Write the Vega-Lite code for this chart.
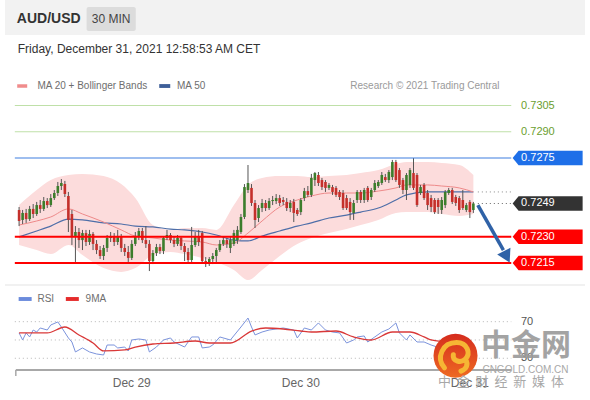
{
"$schema":"https://vega.github.io/schema/vega-lite/v6.json",
"width":590,"height":400,"padding":0,"autosize":{"type":"none"},
"background":"#ffffff",
"config":{"view":{"stroke":null},"font":"Liberation Sans"},
"datasets":{
"candles":[
{"i":0,"o":0.72453,"h":0.72470,"l":0.72361,"c":0.72390},
{"i":1,"o":0.72396,"h":0.72453,"l":0.72373,"c":0.72436},
{"i":2,"o":0.72436,"h":0.72459,"l":0.72379,"c":0.72401},
{"i":3,"o":0.72401,"h":0.72476,"l":0.72390,"c":0.72459},
{"i":4,"o":0.72459,"h":0.72487,"l":0.72407,"c":0.72430},
{"i":5,"o":0.72430,"h":0.72499,"l":0.72419,"c":0.72481},
{"i":6,"o":0.72481,"h":0.72510,"l":0.72436,"c":0.72459},
{"i":7,"o":0.72459,"h":0.72527,"l":0.72447,"c":0.72504},
{"i":8,"o":0.72504,"h":0.72521,"l":0.72464,"c":0.72481},
{"i":9,"o":0.72481,"h":0.72544,"l":0.72470,"c":0.72521},
{"i":10,"o":0.72521,"h":0.72567,"l":0.72510,"c":0.72550},
{"i":11,"o":0.72550,"h":0.72613,"l":0.72533,"c":0.72590},
{"i":12,"o":0.72590,"h":0.72630,"l":0.72567,"c":0.72607},
{"i":13,"o":0.72601,"h":0.72619,"l":0.72527,"c":0.72544},
{"i":14,"o":0.72533,"h":0.72556,"l":0.72327,"c":0.72396},
{"i":15,"o":0.72430,"h":0.72453,"l":0.72253,"c":0.72304},
{"i":16,"o":0.72304,"h":0.72361,"l":0.72156,"c":0.72327},
{"i":17,"o":0.72327,"h":0.72350,"l":0.72236,"c":0.72281},
{"i":18,"o":0.72281,"h":0.72339,"l":0.72224,"c":0.72321},
{"i":19,"o":0.72321,"h":0.72339,"l":0.72247,"c":0.72270},
{"i":20,"o":0.72270,"h":0.72339,"l":0.72253,"c":0.72316},
{"i":21,"o":0.72316,"h":0.72327,"l":0.72224,"c":0.72259},
{"i":22,"o":0.72259,"h":0.72281,"l":0.72201,"c":0.72224},
{"i":23,"o":0.72224,"h":0.72247,"l":0.72173,"c":0.72190},
{"i":24,"o":0.72190,"h":0.72253,"l":0.72167,"c":0.72236},
{"i":25,"o":0.72236,"h":0.72310,"l":0.72213,"c":0.72293},
{"i":26,"o":0.72293,"h":0.72327,"l":0.72270,"c":0.72304},
{"i":27,"o":0.72304,"h":0.72321,"l":0.72247,"c":0.72270},
{"i":28,"o":0.72270,"h":0.72339,"l":0.72253,"c":0.72304},
{"i":29,"o":0.72304,"h":0.72316,"l":0.72213,"c":0.72236},
{"i":30,"o":0.72236,"h":0.72259,"l":0.72190,"c":0.72213},
{"i":31,"o":0.72213,"h":0.72247,"l":0.72156,"c":0.72179},
{"i":32,"o":0.72179,"h":0.72281,"l":0.72167,"c":0.72259},
{"i":33,"o":0.72259,"h":0.72327,"l":0.72247,"c":0.72304},
{"i":34,"o":0.72304,"h":0.72350,"l":0.72281,"c":0.72333},
{"i":35,"o":0.72333,"h":0.72350,"l":0.72264,"c":0.72281},
{"i":36,"o":0.72281,"h":0.72361,"l":0.72236,"c":0.72259},
{"i":37,"o":0.72259,"h":0.72281,"l":0.72104,"c":0.72161},
{"i":38,"o":0.72161,"h":0.72224,"l":0.72144,"c":0.72207},
{"i":39,"o":0.72207,"h":0.72259,"l":0.72190,"c":0.72241},
{"i":40,"o":0.72241,"h":0.72259,"l":0.72201,"c":0.72219},
{"i":41,"o":0.72219,"h":0.72304,"l":0.72201,"c":0.72293},
{"i":42,"o":0.72293,"h":0.72339,"l":0.72281,"c":0.72310},
{"i":43,"o":0.72310,"h":0.72321,"l":0.72264,"c":0.72281},
{"i":44,"o":0.72281,"h":0.72304,"l":0.72241,"c":0.72259},
{"i":45,"o":0.72259,"h":0.72310,"l":0.72247,"c":0.72293},
{"i":46,"o":0.72293,"h":0.72304,"l":0.72224,"c":0.72247},
{"i":47,"o":0.72247,"h":0.72264,"l":0.72161,"c":0.72213},
{"i":48,"o":0.72213,"h":0.72236,"l":0.72156,"c":0.72167},
{"i":49,"o":0.72167,"h":0.72356,"l":0.72156,"c":0.72253},
{"i":50,"o":0.72253,"h":0.72327,"l":0.72241,"c":0.72299},
{"i":51,"o":0.72299,"h":0.72339,"l":0.72247,"c":0.72270},
{"i":52,"o":0.72321,"h":0.72333,"l":0.72150,"c":0.72161},
{"i":53,"o":0.72161,"h":0.72184,"l":0.72127,"c":0.72144},
{"i":54,"o":0.72144,"h":0.72184,"l":0.72133,"c":0.72173},
{"i":55,"o":0.72173,"h":0.72207,"l":0.72144,"c":0.72190},
{"i":56,"o":0.72190,"h":0.72236,"l":0.72156,"c":0.72224},
{"i":57,"o":0.72224,"h":0.72281,"l":0.72213,"c":0.72259},
{"i":58,"o":0.72259,"h":0.72304,"l":0.72247,"c":0.72281},
{"i":59,"o":0.72281,"h":0.72293,"l":0.72236,"c":0.72259},
{"i":60,"o":0.72236,"h":0.72304,"l":0.72207,"c":0.72281},
{"i":61,"o":0.72259,"h":0.72339,"l":0.72247,"c":0.72321},
{"i":62,"o":0.72281,"h":0.72361,"l":0.72259,"c":0.72339},
{"i":63,"o":0.72327,"h":0.72430,"l":0.72316,"c":0.72413},
{"i":64,"o":0.72413,"h":0.72601,"l":0.72401,"c":0.72584},
{"i":65,"o":0.72567,"h":0.72710,"l":0.72550,"c":0.72607},
{"i":66,"o":0.72579,"h":0.72601,"l":0.72476,"c":0.72493},
{"i":67,"o":0.72493,"h":0.72510,"l":0.72350,"c":0.72396},
{"i":68,"o":0.72407,"h":0.72481,"l":0.72384,"c":0.72464},
{"i":69,"o":0.72464,"h":0.72516,"l":0.72441,"c":0.72493},
{"i":70,"o":0.72493,"h":0.72510,"l":0.72447,"c":0.72464},
{"i":71,"o":0.72464,"h":0.72521,"l":0.72453,"c":0.72504},
{"i":72,"o":0.72504,"h":0.72533,"l":0.72481,"c":0.72510},
{"i":73,"o":0.72504,"h":0.72544,"l":0.72487,"c":0.72521},
{"i":74,"o":0.72521,"h":0.72539,"l":0.72476,"c":0.72493},
{"i":75,"o":0.72510,"h":0.72527,"l":0.72481,"c":0.72499},
{"i":76,"o":0.72499,"h":0.72521,"l":0.72447,"c":0.72464},
{"i":77,"o":0.72464,"h":0.72510,"l":0.72441,"c":0.72493},
{"i":78,"o":0.72499,"h":0.72516,"l":0.72384,"c":0.72436},
{"i":79,"o":0.72453,"h":0.72464,"l":0.72419,"c":0.72430},
{"i":80,"o":0.72441,"h":0.72521,"l":0.72424,"c":0.72510},
{"i":81,"o":0.72521,"h":0.72579,"l":0.72504,"c":0.72561},
{"i":82,"o":0.72561,"h":0.72590,"l":0.72527,"c":0.72539},
{"i":83,"o":0.72539,"h":0.72659,"l":0.72527,"c":0.72636},
{"i":84,"o":0.72624,"h":0.72670,"l":0.72590,"c":0.72664},
{"i":85,"o":0.72653,"h":0.72670,"l":0.72590,"c":0.72607},
{"i":86,"o":0.72624,"h":0.72636,"l":0.72567,"c":0.72584},
{"i":87,"o":0.72613,"h":0.72624,"l":0.72556,"c":0.72579},
{"i":88,"o":0.72579,"h":0.72607,"l":0.72567,"c":0.72596},
{"i":89,"o":0.72584,"h":0.72596,"l":0.72539,"c":0.72556},
{"i":90,"o":0.72579,"h":0.72590,"l":0.72527,"c":0.72539},
{"i":91,"o":0.72556,"h":0.72567,"l":0.72510,"c":0.72527},
{"i":92,"o":0.72550,"h":0.72567,"l":0.72453,"c":0.72464},
{"i":93,"o":0.72521,"h":0.72539,"l":0.72453,"c":0.72464},
{"i":94,"o":0.72499,"h":0.72521,"l":0.72396,"c":0.72441},
{"i":95,"o":0.72436,"h":0.72510,"l":0.72396,"c":0.72493},
{"i":96,"o":0.72510,"h":0.72567,"l":0.72493,"c":0.72556},
{"i":97,"o":0.72556,"h":0.72567,"l":0.72493,"c":0.72510},
{"i":98,"o":0.72510,"h":0.72579,"l":0.72493,"c":0.72567},
{"i":99,"o":0.72579,"h":0.72590,"l":0.72499,"c":0.72510},
{"i":100,"o":0.72527,"h":0.72579,"l":0.72510,"c":0.72567},
{"i":101,"o":0.72567,"h":0.72624,"l":0.72556,"c":0.72607},
{"i":102,"o":0.72590,"h":0.72624,"l":0.72579,"c":0.72613},
{"i":103,"o":0.72607,"h":0.72670,"l":0.72596,"c":0.72653},
{"i":104,"o":0.72641,"h":0.72659,"l":0.72613,"c":0.72624},
{"i":105,"o":0.72624,"h":0.72681,"l":0.72607,"c":0.72670},
{"i":106,"o":0.72641,"h":0.72739,"l":0.72624,"c":0.72727},
{"i":107,"o":0.72727,"h":0.72739,"l":0.72613,"c":0.72624},
{"i":108,"o":0.72681,"h":0.72693,"l":0.72579,"c":0.72596},
{"i":109,"o":0.72624,"h":0.72636,"l":0.72544,"c":0.72567},
{"i":110,"o":0.72567,"h":0.72664,"l":0.72510,"c":0.72653},
{"i":111,"o":0.72596,"h":0.72693,"l":0.72579,"c":0.72681},
{"i":112,"o":0.72664,"h":0.72750,"l":0.72567,"c":0.72579},
{"i":113,"o":0.72653,"h":0.72664,"l":0.72470,"c":0.72481},
{"i":114,"o":0.72550,"h":0.72596,"l":0.72539,"c":0.72584},
{"i":115,"o":0.72596,"h":0.72607,"l":0.72510,"c":0.72521},
{"i":116,"o":0.72550,"h":0.72567,"l":0.72453,"c":0.72481},
{"i":117,"o":0.72521,"h":0.72539,"l":0.72441,"c":0.72470},
{"i":118,"o":0.72510,"h":0.72521,"l":0.72430,"c":0.72441},
{"i":119,"o":0.72510,"h":0.72521,"l":0.72430,"c":0.72470},
{"i":120,"o":0.72453,"h":0.72527,"l":0.72430,"c":0.72510},
{"i":121,"o":0.72481,"h":0.72567,"l":0.72464,"c":0.72556},
{"i":122,"o":0.72550,"h":0.72579,"l":0.72539,"c":0.72567},
{"i":123,"o":0.72567,"h":0.72579,"l":0.72487,"c":0.72499},
{"i":124,"o":0.72527,"h":0.72539,"l":0.72476,"c":0.72493},
{"i":125,"o":0.72521,"h":0.72533,"l":0.72436,"c":0.72453},
{"i":126,"o":0.72510,"h":0.72567,"l":0.72453,"c":0.72464},
{"i":127,"o":0.72453,"h":0.72493,"l":0.72441,"c":0.72481},
{"i":128,"o":0.72499,"h":0.72510,"l":0.72407,"c":0.72441},
{"i":129,"o":0.72453,"h":0.72499,"l":0.72436,"c":0.72490}
],
"ma":[
{"i":0,"m20":0.72367,"m50":0.72299,"up":0.72481,"lo":0.72253},
{"i":5,"m20":0.72390,"m50":0.72333,"up":0.72567,"lo":0.72224},
{"i":9,"m20":0.72413,"m50":0.72361,"up":0.72624,"lo":0.72201},
{"i":14,"m20":0.72459,"m50":0.72401,"up":0.72653,"lo":0.72253},
{"i":18,"m20":0.72430,"m50":0.72396,"up":0.72659,"lo":0.72196},
{"i":24,"m20":0.72384,"m50":0.72379,"up":0.72647,"lo":0.72121},
{"i":29,"m20":0.72339,"m50":0.72373,"up":0.72601,"lo":0.72099},
{"i":33,"m20":0.72304,"m50":0.72361,"up":0.72521,"lo":0.72121},
{"i":38,"m20":0.72293,"m50":0.72356,"up":0.72367,"lo":0.72196},
{"i":43,"m20":0.72281,"m50":0.72344,"up":0.72339,"lo":0.72213},
{"i":47,"m20":0.72276,"m50":0.72339,"up":0.72350,"lo":0.72201},
{"i":52,"m20":0.72270,"m50":0.72327,"up":0.72350,"lo":0.72179},
{"i":56,"m20":0.72253,"m50":0.72310,"up":0.72339,"lo":0.72156},
{"i":61,"m20":0.72264,"m50":0.72281,"up":0.72481,"lo":0.72110},
{"i":65,"m20":0.72321,"m50":0.72276,"up":0.72596,"lo":0.72053},
{"i":69,"m20":0.72390,"m50":0.72304,"up":0.72636,"lo":0.72110},
{"i":74,"m20":0.72470,"m50":0.72333,"up":0.72647,"lo":0.72190},
{"i":79,"m20":0.72510,"m50":0.72361,"up":0.72647,"lo":0.72259},
{"i":83,"m20":0.72533,"m50":0.72379,"up":0.72641,"lo":0.72293},
{"i":88,"m20":0.72550,"m50":0.72407,"up":0.72647,"lo":0.72321},
{"i":93,"m20":0.72550,"m50":0.72424,"up":0.72653,"lo":0.72344},
{"i":97,"m20":0.72550,"m50":0.72441,"up":0.72664,"lo":0.72367},
{"i":102,"m20":0.72561,"m50":0.72464,"up":0.72681,"lo":0.72396},
{"i":107,"m20":0.72579,"m50":0.72510,"up":0.72716,"lo":0.72436},
{"i":110,"m20":0.72596,"m50":0.72539,"up":0.72727,"lo":0.72441},
{"i":116,"m20":0.72596,"m50":0.72556,"up":0.72727,"lo":0.72441},
{"i":120,"m20":0.72590,"m50":0.72556,"up":0.72721,"lo":0.72430},
{"i":125,"m20":0.72579,"m50":0.72556,"up":0.72710,"lo":0.72419},
{"i":129,"m20":0.72556,"m50":0.72556,"up":0.72653,"lo":0.72430}
],
"levels":[{"v":0.7305,"k":"r2"},{"v":0.729,"k":"r1"},{"v":0.7275,"k":"piv"},{"v":0.7249,"k":"last"},{"v":0.723,"k":"s1"},{"v":0.7215,"k":"s2"}],
"rsi":[{"i":0,"r":57.7},{"i":1,"r":50},{"i":2,"r":57.7},{"i":3,"r":53.3},{"i":4,"r":60.9},{"i":5,"r":58.7},{"i":6,"r":63.1},{"i":8,"r":60.9},{"i":9,"r":66.4},{"i":11,"r":69.7},{"i":12,"r":64.2},{"i":14,"r":52.2},{"i":15,"r":47.8},{"i":16,"r":36.9},{"i":18,"r":41.3},{"i":19,"r":39.1},{"i":20,"r":36.9},{"i":22,"r":34.7},{"i":24,"r":33.6},{"i":25,"r":44.5},{"i":27,"r":44.5},{"i":28,"r":41.3},{"i":30,"r":42.3},{"i":31,"r":38},{"i":32,"r":50},{"i":34,"r":51.1},{"i":36,"r":50},{"i":37,"r":36.9},{"i":39,"r":42.3},{"i":41,"r":50},{"i":43,"r":52.2},{"i":44,"r":47.8},{"i":47,"r":42.3},{"i":49,"r":53.3},{"i":51,"r":53.3},{"i":52,"r":41.3},{"i":54,"r":42.3},{"i":55,"r":44.5},{"i":57,"r":53.3},{"i":60,"r":50},{"i":63,"r":64.2},{"i":65,"r":74},{"i":66,"r":64.2},{"i":67,"r":55.5},{"i":69,"r":58.7},{"i":71,"r":60.9},{"i":75,"r":63.1},{"i":78,"r":60.9},{"i":79,"r":52.2},{"i":81,"r":63.1},{"i":83,"r":60.9},{"i":85,"r":68.6},{"i":87,"r":60.9},{"i":89,"r":58.7},{"i":91,"r":57.7},{"i":93,"r":46.7},{"i":95,"r":50},{"i":96,"r":53.3},{"i":98,"r":54.4},{"i":99,"r":47.8},{"i":101,"r":53.3},{"i":103,"r":58.7},{"i":105,"r":62},{"i":107,"r":68.6},{"i":108,"r":57.7},{"i":110,"r":50},{"i":111,"r":55.5},{"i":113,"r":47.8},{"i":115,"r":47.8},{"i":117,"r":44.5},{"i":119,"r":42},{"i":121,"r":48},{"i":123,"r":45},{"i":125,"r":40},{"i":127,"r":44},{"i":129,"r":42}],
"rsima":[{"i":0,"r":57.7},{"i":8,"r":57.7},{"i":13,"r":64.2},{"i":17,"r":55.5},{"i":21,"r":46.7},{"i":24,"r":38},{"i":30,"r":39.1},{"i":33,"r":42.3},{"i":38,"r":45.6},{"i":44,"r":46.7},{"i":50,"r":48.9},{"i":54,"r":46.7},{"i":60,"r":46.7},{"i":66,"r":59.8},{"i":70,"r":63.1},{"i":75,"r":62},{"i":80,"r":59.8},{"i":83,"r":58.7},{"i":90,"r":59.8},{"i":95,"r":53.3},{"i":100,"r":50},{"i":106,"r":58.7},{"i":111,"r":58.7},{"i":115,"r":53.3},{"i":117,"r":50},{"i":121,"r":48},{"i":125,"r":46},{"i":129,"r":45}],
"rsilv":[{"v":70},{"v":50},{"v":30}],
"days":[{"i":32,"d":"Dec 29"},{"i":80,"d":"Dec 30"},{"i":128,"d":"Dec 31"}]
},
"resolve":{"scale":{"y":"independent"}},
"layer":[
{"layer":[
{"data":{"values":[{}]},"mark":{"type":"rect","color":"#f2f2f2"},"encoding":{"x":{"datum":-4,"type":"quantitative","scale":{"domain":[-4,160.7],"nice":false,"zero":false},"axis":null},"x2":{"datum":160.7},"y":{"datum":0.736529,"type":"quantitative","scale":{"domain":[0.713671,0.736529],"nice":false,"zero":false},"axis":null},"y2":{"datum":0.734529}}},
{"data":{"values":[{}]},"mark":{"type":"rect","color":"#dcdcdc","cornerRadius":2},"encoding":{"x":{"datum":19.17,"type":"quantitative","scale":{"domain":[-4,160.7],"nice":false,"zero":false},"axis":null},"x2":{"datum":33.13},"y":{"datum":0.736129,"type":"quantitative","scale":{"domain":[0.713671,0.736529],"nice":false,"zero":false},"axis":null},"y2":{"datum":0.734757}}},
{"data":{"values":[{}]},"mark":{"type":"text","text":"AUD/USD","align":"left","baseline":"middle","fontSize":14,"fontWeight":"bold","color":"#333333"},"encoding":{"x":{"datum":-0.65,"type":"quantitative","scale":{"domain":[-4,160.7],"nice":false,"zero":false},"axis":null},"y":{"datum":0.735443,"type":"quantitative","scale":{"domain":[0.713671,0.736529],"nice":false,"zero":false},"axis":null}}},
{"data":{"values":[{}]},"mark":{"type":"text","text":"30 MIN","align":"center","baseline":"middle","fontSize":12,"color":"#444444"},"encoding":{"x":{"datum":26.15,"type":"quantitative","scale":{"domain":[-4,160.7],"nice":false,"zero":false},"axis":null},"y":{"datum":0.735443,"type":"quantitative","scale":{"domain":[0.713671,0.736529],"nice":false,"zero":false},"axis":null}}},
{"data":{"values":[{}]},"mark":{"type":"text","text":"Friday, December 31, 2021 12:58:53 AM CET","align":"left","baseline":"middle","fontSize":12,"color":"#333333"},"encoding":{"x":{"datum":-0.37,"type":"quantitative","scale":{"domain":[-4,160.7],"nice":false,"zero":false},"axis":null},"y":{"datum":0.733729,"type":"quantitative","scale":{"domain":[0.713671,0.736529],"nice":false,"zero":false},"axis":null}}},
{"data":{"values":[{}]},"mark":{"type":"point","shape":"M-1,-0.35L1,-0.35L1,0.35L-1,0.35Z","size":100,"filled":true,"opacity":1,"color":"#f08c8c"},"encoding":{"x":{"datum":0.885,"type":"quantitative","scale":{"domain":[-4,160.7],"nice":false,"zero":false},"axis":null},"y":{"datum":0.731614,"type":"quantitative","scale":{"domain":[0.713671,0.736529],"nice":false,"zero":false},"axis":null}}},
{"data":{"values":[{}]},"mark":{"type":"text","text":"MA 20 + Bollinger Bands","align":"left","baseline":"middle","fontSize":10,"color":"#6e6e6e"},"encoding":{"x":{"datum":5.21,"type":"quantitative","scale":{"domain":[-4,160.7],"nice":false,"zero":false},"axis":null},"y":{"datum":0.731614,"type":"quantitative","scale":{"domain":[0.713671,0.736529],"nice":false,"zero":false},"axis":null}}},
{"data":{"values":[{}]},"mark":{"type":"point","shape":"M-1,-0.35L1,-0.35L1,0.35L-1,0.35Z","size":121,"filled":true,"opacity":1,"color":"#3e5f99"},"encoding":{"x":{"datum":41.36,"type":"quantitative","scale":{"domain":[-4,160.7],"nice":false,"zero":false},"axis":null},"y":{"datum":0.731614,"type":"quantitative","scale":{"domain":[0.713671,0.736529],"nice":false,"zero":false},"axis":null}}},
{"data":{"values":[{}]},"mark":{"type":"text","text":"MA 50","align":"left","baseline":"middle","fontSize":10,"color":"#6e6e6e"},"encoding":{"x":{"datum":44.85,"type":"quantitative","scale":{"domain":[-4,160.7],"nice":false,"zero":false},"axis":null},"y":{"datum":0.731614,"type":"quantitative","scale":{"domain":[0.713671,0.736529],"nice":false,"zero":false},"axis":null}}},
{"data":{"values":[{}]},"mark":{"type":"text","text":"Research © 2021 Trading Central","align":"right","baseline":"middle","fontSize":10,"color":"#9a9a9a"},"encoding":{"x":{"datum":136.41,"type":"quantitative","scale":{"domain":[-4,160.7],"nice":false,"zero":false},"axis":null},"y":{"datum":0.731614,"type":"quantitative","scale":{"domain":[0.713671,0.736529],"nice":false,"zero":false},"axis":null}}},
{"data":{"name":"ma"},"mark":{"type":"area","color":"#fcdcdc","opacity":1,"interpolate":"monotone"},"encoding":{"x":{"field":"i","type":"quantitative","scale":{"domain":[-4,160.7],"nice":false,"zero":false},"axis":null},"y":{"field":"up","type":"quantitative","scale":{"domain":[0.713671,0.736529],"nice":false,"zero":false},"axis":null},"y2":{"field":"lo"}}},
{"data":{"name":"ma"},"mark":{"type":"line","color":"#4e6ea8","strokeWidth":1.2,"interpolate":"monotone"},"encoding":{"x":{"field":"i","type":"quantitative","scale":{"domain":[-4,160.7],"nice":false,"zero":false},"axis":null},"y":{"field":"m50","type":"quantitative","scale":{"domain":[0.713671,0.736529],"nice":false,"zero":false},"axis":null}}},
{"data":{"name":"ma"},"mark":{"type":"line","color":"#ee8a8a","strokeWidth":1,"interpolate":"monotone"},"encoding":{"x":{"field":"i","type":"quantitative","scale":{"domain":[-4,160.7],"nice":false,"zero":false},"axis":null},"y":{"field":"m20","type":"quantitative","scale":{"domain":[0.713671,0.736529],"nice":false,"zero":false},"axis":null}}},
{"data":{"name":"ma"},"transform":[{"filter":"datum.i == 129"}],"mark":{"type":"rule","color":"#888888","strokeWidth":1,"strokeDash":[1,3]},"encoding":{"x":{"datum":130.27,"type":"quantitative","scale":{"domain":[-4,160.7],"nice":false,"zero":false},"axis":null},"x2":{"datum":139.76},"y":{"field":"m50","type":"quantitative","scale":{"domain":[0.713671,0.736529],"nice":false,"zero":false},"axis":null}}},
{"data":{"name":"levels"},"transform":[{"filter":"datum.k == 'last'"}],"mark":{"type":"rule","color":"#666666","strokeWidth":1,"strokeDash":[1,3]},"encoding":{"x":{"datum":130.27,"type":"quantitative","scale":{"domain":[-4,160.7],"nice":false,"zero":false},"axis":null},"x2":{"datum":139.76},"y":{"field":"v","type":"quantitative","scale":{"domain":[0.713671,0.736529],"nice":false,"zero":false},"axis":null}}},
{"data":{"name":"candles"},"mark":{"type":"rule","color":"#555555","strokeWidth":1},"encoding":{"x":{"field":"i","type":"quantitative","scale":{"domain":[-4,160.7],"nice":false,"zero":false},"axis":null},"y":{"field":"l","type":"quantitative","scale":{"domain":[0.713671,0.736529],"nice":false,"zero":false},"axis":null},"y2":{"field":"h"}}},
{"data":{"name":"candles"},"mark":{"type":"bar","width":2.6},"encoding":{"x":{"field":"i","type":"quantitative","scale":{"domain":[-4,160.7],"nice":false,"zero":false},"axis":null},"y":{"field":"o","type":"quantitative","scale":{"domain":[0.713671,0.736529],"nice":false,"zero":false},"axis":null},"y2":{"field":"c"},"color":{"condition":{"test":"datum.c >= datum.o","value":"#3c7d2c"},"value":"#c4302b"}}},
{"data":{"name":"levels"},"transform":[{"filter":{"field":"k","oneOf":["r1","r2"]}}],"mark":{"type":"rule","color":"#bfe0a8","strokeWidth":1},"encoding":{"x":{"datum":-1.21,"type":"quantitative","scale":{"domain":[-4,160.7],"nice":false,"zero":false},"axis":null},"x2":{"datum":139.76},"y":{"field":"v","type":"quantitative","scale":{"domain":[0.713671,0.736529],"nice":false,"zero":false},"axis":null}}},
{"data":{"name":"levels"},"transform":[{"filter":"datum.k == 'piv'"}],"mark":{"type":"rule","color":"#3f7fe0","strokeWidth":1.2},"encoding":{"x":{"datum":-1.21,"type":"quantitative","scale":{"domain":[-4,160.7],"nice":false,"zero":false},"axis":null},"x2":{"datum":139.76},"y":{"field":"v","type":"quantitative","scale":{"domain":[0.713671,0.736529],"nice":false,"zero":false},"axis":null}}},
{"data":{"name":"levels"},"transform":[{"filter":{"field":"k","oneOf":["s1","s2"]}}],"mark":{"type":"rule","color":"#ff0000","strokeWidth":2},"encoding":{"x":{"datum":-1.21,"type":"quantitative","scale":{"domain":[-4,160.7],"nice":false,"zero":false},"axis":null},"x2":{"datum":139.76},"y":{"field":"v","type":"quantitative","scale":{"domain":[0.713671,0.736529],"nice":false,"zero":false},"axis":null}}},
{"data":{"name":"levels"},"transform":[{"filter":"datum.k == 'piv'"}],"mark":{"type":"point","shape":"M-1,0L-0.83,-0.21L1,-0.21L1,0.21L-0.83,0.21Z","size":4900,"filled":true,"opacity":1,"color":"#1e6fe8","strokeWidth":0},"encoding":{"x":{"datum":150.09,"type":"quantitative","scale":{"domain":[-4,160.7],"nice":false,"zero":false},"axis":null},"y":{"field":"v","type":"quantitative","scale":{"domain":[0.713671,0.736529],"nice":false,"zero":false},"axis":null}}},
{"data":{"name":"levels"},"transform":[{"filter":"datum.k == 'last'"}],"mark":{"type":"point","shape":"M-1,0L-0.83,-0.21L1,-0.21L1,0.21L-0.83,0.21Z","size":4900,"filled":true,"opacity":1,"color":"#333333","strokeWidth":0},"encoding":{"x":{"datum":150.09,"type":"quantitative","scale":{"domain":[-4,160.7],"nice":false,"zero":false},"axis":null},"y":{"field":"v","type":"quantitative","scale":{"domain":[0.713671,0.736529],"nice":false,"zero":false},"axis":null}}},
{"data":{"name":"levels"},"transform":[{"filter":{"field":"k","oneOf":["s1","s2"]}}],"mark":{"type":"point","shape":"M-1,0L-0.83,-0.21L1,-0.21L1,0.21L-0.83,0.21Z","size":4900,"filled":true,"opacity":1,"color":"#ff0000","strokeWidth":0},"encoding":{"x":{"datum":150.09,"type":"quantitative","scale":{"domain":[-4,160.7],"nice":false,"zero":false},"axis":null},"y":{"field":"v","type":"quantitative","scale":{"domain":[0.713671,0.736529],"nice":false,"zero":false},"axis":null}}},
{"data":{"name":"levels"},"transform":[{"filter":{"field":"k","oneOf":["piv","last","s1","s2"]}}],"mark":{"type":"text","align":"left","baseline":"middle","fontSize":11,"color":"#ffffff"},"encoding":{"x":{"datum":142.55,"type":"quantitative","scale":{"domain":[-4,160.7],"nice":false,"zero":false},"axis":null},"y":{"field":"v","type":"quantitative","scale":{"domain":[0.713671,0.736529],"nice":false,"zero":false},"axis":null},"text":{"field":"v","type":"quantitative","format":".4f"}}},
{"data":{"name":"levels"},"transform":[{"filter":{"field":"k","oneOf":["r1","r2"]}}],"mark":{"type":"text","align":"left","baseline":"middle","fontSize":11,"color":"#6b9e2f"},"encoding":{"x":{"datum":142.55,"type":"quantitative","scale":{"domain":[-4,160.7],"nice":false,"zero":false},"axis":null},"y":{"field":"v","type":"quantitative","scale":{"domain":[0.713671,0.736529],"nice":false,"zero":false},"axis":null},"text":{"field":"v","type":"quantitative","format":".4f"}}},
{"data":{"values":[{}]},"mark":{"type":"rule","color":"#2f62a7","strokeWidth":3.5},"encoding":{"x":{"datum":130.27,"type":"quantitative","scale":{"domain":[-4,160.7],"nice":false,"zero":false},"axis":null},"x2":{"datum":137.53},"y":{"datum":0.72481,"type":"quantitative","scale":{"domain":[0.713671,0.736529],"nice":false,"zero":false},"axis":null},"y2":{"datum":0.72224}}},
{"data":{"values":[{}]},"mark":{"type":"point","shape":"triangle","size":220,"angle":153,"filled":true,"opacity":1,"color":"#2f62a7"},"encoding":{"x":{"datum":138.2,"type":"quantitative","scale":{"domain":[-4,160.7],"nice":false,"zero":false},"axis":null},"y":{"datum":0.72196,"type":"quantitative","scale":{"domain":[0.713671,0.736529],"nice":false,"zero":false},"axis":null}}}
]},
{"layer":[
{"data":{"values":[{}]},"mark":{"type":"rule","color":"#e3e3e3","strokeWidth":1},"encoding":{"x":{"datum":-4,"type":"quantitative","scale":{"domain":[-4,160.7],"nice":false,"zero":false},"axis":null},"x2":{"datum":160.7},"y":{"datum":110.1,"type":"quantitative","scale":{"domain":[-15.6,421.6],"nice":false,"zero":false},"axis":null}}},
{"data":{"values":[{}]},"mark":{"type":"point","shape":"M-1,-0.3L1,-0.3L1,0.3L-1,0.3Z","size":169,"filled":true,"opacity":1,"color":"#6b8bdc"},"encoding":{"x":{"datum":1.72,"type":"quantitative","scale":{"domain":[-4,160.7],"nice":false,"zero":false},"axis":null},"y":{"datum":94.8,"type":"quantitative","scale":{"domain":[-15.6,421.6],"nice":false,"zero":false},"axis":null}}},
{"data":{"values":[{}]},"mark":{"type":"text","text":"RSI","align":"left","baseline":"middle","fontSize":10,"color":"#6e6e6e"},"encoding":{"x":{"datum":5.21,"type":"quantitative","scale":{"domain":[-4,160.7],"nice":false,"zero":false},"axis":null},"y":{"datum":94.8,"type":"quantitative","scale":{"domain":[-15.6,421.6],"nice":false,"zero":false},"axis":null}}},
{"data":{"values":[{}]},"mark":{"type":"point","shape":"M-1,-0.3L1,-0.3L1,0.3L-1,0.3Z","size":169,"filled":true,"opacity":1,"color":"#e52b2b"},"encoding":{"x":{"datum":15.12,"type":"quantitative","scale":{"domain":[-4,160.7],"nice":false,"zero":false},"axis":null},"y":{"datum":94.8,"type":"quantitative","scale":{"domain":[-15.6,421.6],"nice":false,"zero":false},"axis":null}}},
{"data":{"values":[{}]},"mark":{"type":"text","text":"9MA","align":"left","baseline":"middle","fontSize":10,"color":"#6e6e6e"},"encoding":{"x":{"datum":18.89,"type":"quantitative","scale":{"domain":[-4,160.7],"nice":false,"zero":false},"axis":null},"y":{"datum":94.8,"type":"quantitative","scale":{"domain":[-15.6,421.6],"nice":false,"zero":false},"axis":null}}},
{"data":{"name":"rsilv"},"mark":{"type":"rule","color":"#b5b5b5","strokeWidth":1,"strokeDash":[1,3]},"encoding":{"x":{"datum":-1.21,"type":"quantitative","scale":{"domain":[-4,160.7],"nice":false,"zero":false},"axis":null},"x2":{"datum":139.76},"y":{"field":"v","type":"quantitative","scale":{"domain":[-15.6,421.6],"nice":false,"zero":false},"axis":null}}},
{"data":{"name":"rsilv"},"transform":[{"filter":"datum.v != 50"}],"mark":{"type":"text","align":"center","baseline":"middle","fontSize":11,"color":"#555555"},"encoding":{"x":{"datum":144.23,"type":"quantitative","scale":{"domain":[-4,160.7],"nice":false,"zero":false},"axis":null},"y":{"field":"v","type":"quantitative","scale":{"domain":[-15.6,421.6],"nice":false,"zero":false},"axis":null},"text":{"field":"v","type":"quantitative"}}},
{"data":{"name":"rsi"},"mark":{"type":"line","color":"#7b93dc","strokeWidth":1},"encoding":{"x":{"field":"i","type":"quantitative","scale":{"domain":[-4,160.7],"nice":false,"zero":false},"axis":null},"y":{"field":"r","type":"quantitative","scale":{"domain":[-15.6,421.6],"nice":false,"zero":false},"axis":null}}},
{"data":{"name":"rsima"},"mark":{"type":"line","color":"#d93838","strokeWidth":1.3,"interpolate":"monotone"},"encoding":{"x":{"field":"i","type":"quantitative","scale":{"domain":[-4,160.7],"nice":false,"zero":false},"axis":null},"y":{"field":"r","type":"quantitative","scale":{"domain":[-15.6,421.6],"nice":false,"zero":false},"axis":null}}},
{"data":{"values":[{}]},"mark":{"type":"rule","color":"#a8a8a8","strokeWidth":2},"encoding":{"x":{"datum":-0.93,"type":"quantitative","scale":{"domain":[-4,160.7],"nice":false,"zero":false},"axis":null},"x2":{"datum":139.76},"y":{"datum":17.2,"type":"quantitative","scale":{"domain":[-15.6,421.6],"nice":false,"zero":false},"axis":null}}},
{"data":{"values":[{}]},"mark":{"type":"rule","color":"#a8a8a8","strokeWidth":1.5},"encoding":{"x":{"datum":-0.93,"type":"quantitative","scale":{"domain":[-4,160.7],"nice":false,"zero":false},"axis":null},"y":{"datum":17.2,"type":"quantitative","scale":{"domain":[-15.6,421.6],"nice":false,"zero":false},"axis":null},"y2":{"datum":10.66}}},
{"data":{"name":"days"},"mark":{"type":"text","align":"center","baseline":"middle","fontSize":12,"color":"#666666"},"encoding":{"x":{"field":"i","type":"quantitative","scale":{"domain":[-4,160.7],"nice":false,"zero":false},"axis":null},"y":{"datum":3.0,"type":"quantitative","scale":{"domain":[-15.6,421.6],"nice":false,"zero":false},"axis":null},"text":{"field":"d","type":"nominal"}}},
{"data":{"values":[{}]},"mark":{"type":"point","shape":"circle","size":1936,"filled":true,"opacity":1,"strokeWidth":0,"fill":{"gradient":"linear","x1":0,"y1":0,"x2":0,"y2":1,"stops":[{"offset":0,"color":"#d52c1e"},{"offset":1,"color":"#ee6a22"}]}},"encoding":{"x":{"datum":123.93,"type":"quantitative","scale":{"domain":[-4,160.7],"nice":false,"zero":false},"axis":null},"y":{"datum":32.73,"type":"quantitative","scale":{"domain":[-15.6,421.6],"nice":false,"zero":false},"axis":null}}},
{"data":{"values":[{}]},"mark":{"type":"point","shape":"M-0.5,0.55C-0.9,0.1 -0.6,-0.6 0.05,-0.6C0.55,-0.6 0.7,-0.1 0.45,0.15C0.25,0.35 -0.15,0.25 -0.1,-0.05M0.45,0.15C0.6,0.4 0.5,0.6 0.25,0.7","size":1936,"filled":false,"opacity":1,"color":"#f6b634","strokeWidth":5,"strokeCap":"round"},"encoding":{"x":{"datum":123.93,"type":"quantitative","scale":{"domain":[-4,160.7],"nice":false,"zero":false},"axis":null},"y":{"datum":32.73,"type":"quantitative","scale":{"domain":[-15.6,421.6],"nice":false,"zero":false},"axis":null}}},
{"data":{"values":[{}]},"mark":{"type":"text","text":"中金网","align":"center","baseline":"middle","fontSize":30,"fontWeight":"bold","font":"Noto Sans CJK SC","color":"#9a9a9a","opacity":0.9},"encoding":{"x":{"datum":143.95,"type":"quantitative","scale":{"domain":[-4,160.7],"nice":false,"zero":false},"axis":null},"y":{"datum":43.4,"type":"quantitative","scale":{"domain":[-15.6,421.6],"nice":false,"zero":false},"axis":null}}},
{"data":{"values":[{}]},"mark":{"type":"text","text":"CNGOLD.COM.CN","align":"center","baseline":"middle","fontSize":10,"color":"#a8a8a8"},"encoding":{"x":{"datum":143.8,"type":"quantitative","scale":{"domain":[-4,160.7],"nice":false,"zero":false},"axis":null},"y":{"datum":17.2,"type":"quantitative","scale":{"domain":[-15.6,421.6],"nice":false,"zero":false},"axis":null}}},
{"data":{"values":[{}]},"mark":{"type":"text","text":"中 \u00a0金 \u00a0财 \u00a0经 \u00a0新 \u00a0媒 \u00a0体","align":"center","baseline":"middle","fontSize":13,"font":"Noto Sans CJK SC","color":"#a8a8a8"},"encoding":{"x":{"datum":136.83,"type":"quantitative","scale":{"domain":[-4,160.7],"nice":false,"zero":false},"axis":null},"y":{"datum":4.1,"type":"quantitative","scale":{"domain":[-15.6,421.6],"nice":false,"zero":false},"axis":null}}}
]}
]
}
